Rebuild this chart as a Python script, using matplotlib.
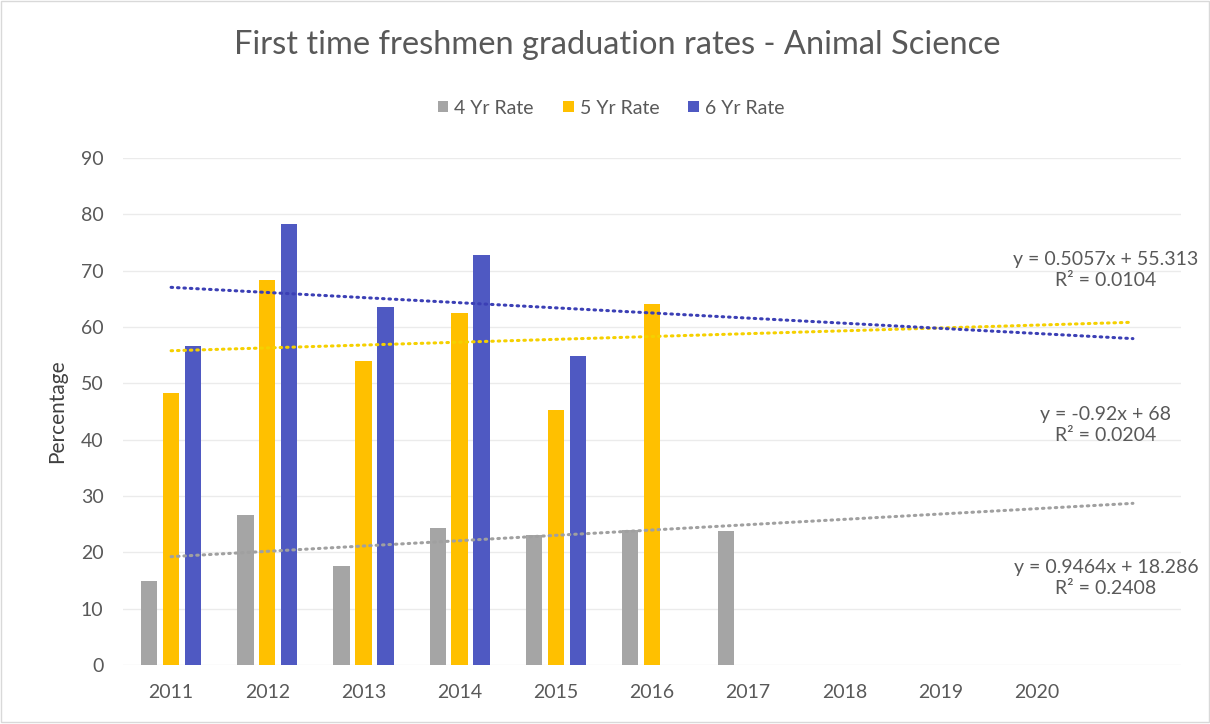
import numpy as np
import matplotlib.pyplot as plt
from matplotlib.patches import Rectangle

# categories (the last slot is empty in the original chart)
years = ["2011", "2012", "2013", "2014", "2015", "2016", "2017", "2018", "2019", "2020", ""]

# graduation rates (%) per cohort year
rate_4yr = [15.0, 26.7, 17.6, 24.3, 23.1, 24.0, 23.8]
rate_5yr = [48.3, 68.3, 54.0, 62.5, 45.2, 64.0]
rate_6yr = [56.6, 78.3, 63.6, 72.8, 54.8]

# trendline labels as shown in the chart
eq_labels = [
    "y = 0.5057x + 55.313\nR² = 0.0104",
    "y = -0.92x + 68\nR² = 0.0204",
    "y = 0.9464x + 18.286\nR² = 0.2408",
]

plt.rcParams['font.family'] = ['Lato', 'DejaVu Sans']

c_gray = "#A5A5A5"
c_yel = "#FFC000"
c_blue = "#4F59C2"
txt = "#595959"

fig = plt.figure(figsize=(12.1, 7.24), dpi=100)
ax = fig.add_axes([123 / 1210, 1 - 665 / 724, (1181 - 123) / 1210, (665 - 158) / 724])

x = np.arange(len(years))
w = 0.17
off = 0.228
ax.bar(x[:len(rate_4yr)] - off, rate_4yr, w, color=c_gray, label="4 Yr Rate", zorder=3)
ax.bar(x[:len(rate_5yr)], rate_5yr, w, color=c_yel, label="5 Yr Rate", zorder=3)
ax.bar(x[:len(rate_6yr)] + off, rate_6yr, w, color=c_blue, label="6 Yr Rate", zorder=3)

# linear trendlines (Excel style: x = 1..n), extended to last category
xt = np.linspace(1, len(years), 50)
for vals, col in [(rate_4yr, "#A0A0A0"), (rate_5yr, "#F5D000"), (rate_6yr, "#3B3FB5")]:
    k, b = np.polyfit(np.arange(1, len(vals) + 1), vals, 1)
    ax.plot(xt - 1, k * xt + b, color=col, lw=2.2, ls=(0, (0.5, 1.6)),
            dash_capstyle="round", zorder=4)

# equation labels
for lab, yy in zip(eq_labels, [70.1, 42.6, 15.4]):
    ax.text(9.72, yy, lab, ha="center", va="center", fontsize=14,
            color=txt, linespacing=1.25, zorder=5)

ax.set_xlim(-0.5, len(years) - 0.5)
ax.set_ylim(0, 90)
ax.set_yticks(range(0, 91, 10))
ax.set_xticks(x)
ax.set_xticklabels(years)
ax.tick_params(axis="both", length=0, labelsize=14, colors=txt)
ax.tick_params(axis="x", pad=14)
ax.tick_params(axis="y", pad=14)
ax.grid(axis="y", color="#EBEBEB", lw=1, zorder=0)
for s in ax.spines.values():
    s.set_visible(False)
ax.set_ylabel("Percentage", fontsize=15, color="#404040", labelpad=10)

fig.suptitle("First time freshmen graduation rates - Animal Science",
             x=0.51, y=1 - 45 / 724, va="center", fontsize=23.5, color=txt)

leg = fig.legend(loc="center", bbox_to_anchor=(0.505, 1 - 108 / 724), ncol=3,
                 frameon=False, fontsize=14, handlelength=0.55, handleheight=0.55,
                 handletextpad=0.3, columnspacing=1.5)
for t in leg.get_texts():
    t.set_color(txt)

# faint chart border
fig.patches.append(Rectangle((0.001, 0.003), 0.998, 0.995, transform=fig.transFigure,
                             fill=False, ec="#D9D9D9", lw=1))

fig.savefig("out.png", dpi=100)
